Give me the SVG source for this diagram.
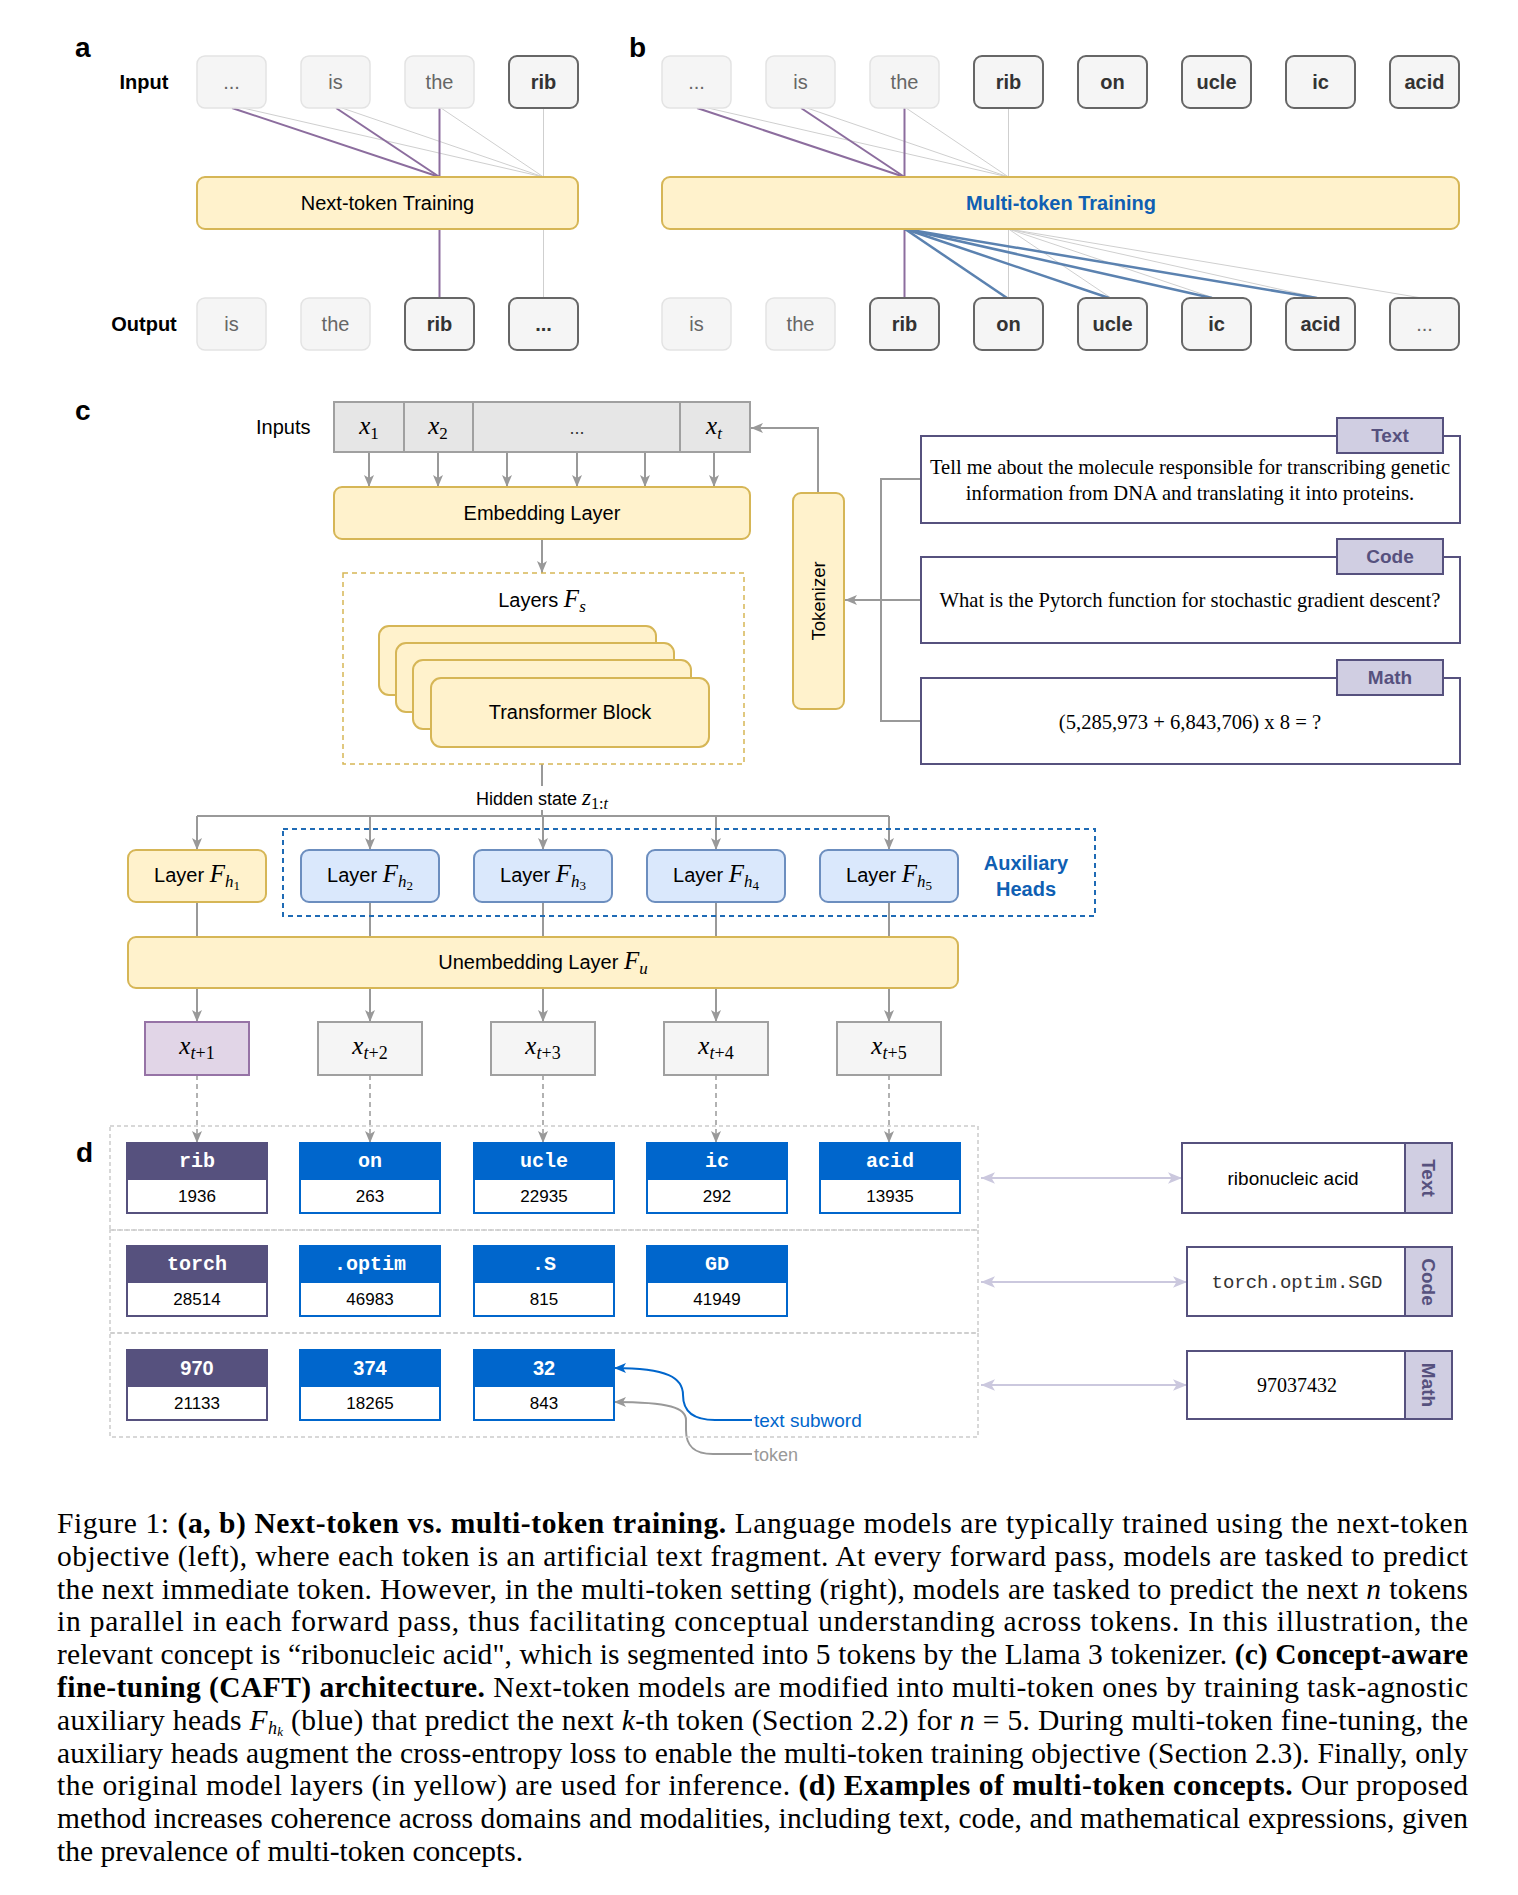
<svg xmlns="http://www.w3.org/2000/svg" width="1518" height="1895" viewBox="0 0 1518 1895">
<style>
text{font-family:"Liberation Sans",Arial,sans-serif}
.lbl{font-size:28px;font-weight:bold;fill:#000}
.rowl{font-size:20px;font-weight:bold;fill:#000;text-anchor:middle}
.tl{fill:#f5f5f5;stroke:#e3e3e3;stroke-width:1.5}
.td{fill:#f5f5f5;stroke:#666;stroke-width:2}
.tt{font-size:20px;fill:#666;text-anchor:middle}
.tb{font-size:20px;fill:#333;text-anchor:middle;font-weight:bold}
.yel{fill:#fff2cc;stroke:#d6b656;stroke-width:2}
.blu{fill:#dae8fc;stroke:#6c8ebf;stroke-width:2}
.c20{font-size:20px;fill:#000;text-anchor:middle}
.m{font-family:"Liberation Serif","Times New Roman",serif;font-style:italic}
.mu{font-family:"Liberation Serif","Times New Roman",serif;font-style:normal}
.pl{stroke:#8c6d9e;stroke-width:2;fill:none}
.gl{stroke:#cfcfcf;stroke-width:1;fill:none}
.bl{stroke:#5b82b0;stroke-width:2.5;fill:none}
.ar{stroke:#999;stroke-width:2;fill:none}
.da{stroke:#999;stroke-width:1.5;fill:none;stroke-dasharray:5 4}
.pbox{fill:#fff;stroke:#56517e;stroke-width:2}
.tag{fill:#d0cee2;stroke:#56517e;stroke-width:2}
.tagt{font-size:19px;font-weight:bold;fill:#56517e;text-anchor:middle}
.ser{font-family:"Liberation Serif","Times New Roman",serif;font-size:20.6px;fill:#000;text-anchor:middle}
.hp{fill:#56517e;stroke:#56517e;stroke-width:2}
.hb{fill:#0066cc;stroke:#0066cc;stroke-width:2}
.bp{fill:#fff;stroke:#56517e;stroke-width:2}
.bb{fill:#fff;stroke:#0066cc;stroke-width:2}
.ht{font-family:"Liberation Mono","Courier New",monospace;font-size:20px;font-weight:bold;fill:#fff;text-anchor:middle}
.hn{font-size:20px;font-weight:bold;fill:#fff;text-anchor:middle}
.nt{font-size:17px;fill:#000;text-anchor:middle}
.dash{fill:none;stroke:#cccccc;stroke-width:1.5;stroke-dasharray:4 3}
.lav{stroke:#cbc8de;stroke-width:2;fill:none}
.cap{font-family:"Liberation Serif","Times New Roman",serif;font-size:29.5px;fill:#000}
.b{font-weight:bold}
</style>
<defs>
<marker id="ag" viewBox="0 0 12 10" refX="12" refY="5" markerWidth="12" markerHeight="10" markerUnits="userSpaceOnUse" orient="auto"><path d="M0,0 L12,5 L0,10 L3,5 z" fill="#999"/></marker>
<marker id="ab" viewBox="0 0 12 10" refX="12" refY="5" markerWidth="12" markerHeight="10" markerUnits="userSpaceOnUse" orient="auto"><path d="M0,0 L12,5 L0,10 L3,5 z" fill="#0066cc"/></marker>
<marker id="al" viewBox="0 0 12 10" refX="12" refY="5" markerWidth="14" markerHeight="12" markerUnits="userSpaceOnUse" orient="auto-start-reverse"><path d="M0,0 L12,5 L0,10 L3,5 z" fill="#cbc8de"/></marker>
</defs>
<rect width="1518" height="1895" fill="#fff"/>

<!-- panel labels -->
<text class="lbl" x="75" y="57">a</text>
<text class="lbl" x="629" y="57">b</text>
<text class="lbl" x="75" y="420">c</text>
<text class="lbl" x="76" y="1162">d</text>
<text class="rowl" x="144" y="89">Input</text>
<text class="rowl" x="144" y="331">Output</text>

<!-- connectors -->
<g id="connectors">
  <!-- panel a -->
  <line class="gl" x1="243" y1="108" x2="543.5" y2="177"/>
  <line class="gl" x1="342" y1="108" x2="543.5" y2="177"/>
  <line class="gl" x1="441" y1="108" x2="543.5" y2="177"/>
  <line class="gl" x1="543.5" y1="108" x2="543.5" y2="177"/>
  <line class="pl" x1="232" y1="108" x2="439.5" y2="177"/>
  <line class="pl" x1="336" y1="108" x2="439.5" y2="177"/>
  <line class="pl" x1="439.5" y1="108" x2="439.5" y2="177"/>
  <line class="pl" x1="439.5" y1="229" x2="439.5" y2="298"/>
  <line class="gl" x1="543.5" y1="229" x2="543.5" y2="298"/>
  <!-- panel b -->
  <line class="gl" x1="708" y1="108" x2="1008.5" y2="177"/>
  <line class="gl" x1="807" y1="108" x2="1008.5" y2="177"/>
  <line class="gl" x1="906" y1="108" x2="1008.5" y2="177"/>
  <line class="gl" x1="1008.5" y1="108" x2="1008.5" y2="177"/>
  <line class="pl" x1="697" y1="108" x2="904.5" y2="177"/>
  <line class="pl" x1="801" y1="108" x2="904.5" y2="177"/>
  <line class="pl" x1="904.5" y1="108" x2="904.5" y2="177"/>
  <line class="gl" x1="1008.5" y1="229" x2="1008.5" y2="298"/>
  <line class="gl" x1="1008.5" y1="229" x2="1111" y2="298"/>
  <line class="gl" x1="1008.5" y1="229" x2="1214" y2="298"/>
  <line class="gl" x1="1008.5" y1="229" x2="1319" y2="298"/>
  <line class="gl" x1="1008.5" y1="229" x2="1422" y2="298"/>
  <line class="pl" x1="904.5" y1="229" x2="904.5" y2="298"/>
  <line class="bl" x1="905" y1="229" x2="1007" y2="298"/>
  <line class="bl" x1="905" y1="229" x2="1109" y2="298"/>
  <line class="bl" x1="905" y1="229" x2="1212" y2="298"/>
  <line class="bl" x1="905" y1="229" x2="1317" y2="298"/>
  <!-- panel c: inputs to embedding -->
  <line class="ar" x1="369" y1="452" x2="369" y2="487" marker-end="url(#ag)"/>
  <line class="ar" x1="438" y1="452" x2="438" y2="487" marker-end="url(#ag)"/>
  <line class="ar" x1="507" y1="452" x2="507" y2="487" marker-end="url(#ag)"/>
  <line class="ar" x1="577" y1="452" x2="577" y2="487" marker-end="url(#ag)"/>
  <line class="ar" x1="645" y1="452" x2="645" y2="487" marker-end="url(#ag)"/>
  <line class="ar" x1="714" y1="452" x2="714" y2="487" marker-end="url(#ag)"/>
  <line class="ar" x1="542" y1="539" x2="542" y2="573" marker-end="url(#ag)"/>
  <!-- tokenizer to xt -->
  <polyline class="ar" points="818,493 818,428 751,428" marker-end="url(#ag)"/>
  <!-- prompts to tokenizer -->
  <polyline class="ar" points="921,479 881,479 881,721 921,721"/>
  <line class="ar" x1="921" y1="600" x2="845" y2="600" marker-end="url(#ag)"/>
  <!-- hidden state -->
  <line class="ar" x1="542" y1="764" x2="542" y2="816"/>
  <line class="ar" x1="197" y1="816" x2="889" y2="816"/>
  <line class="ar" x1="197" y1="816" x2="197" y2="850" marker-end="url(#ag)"/>
  <line class="ar" x1="370" y1="816" x2="370" y2="850" marker-end="url(#ag)"/>
  <line class="ar" x1="543" y1="816" x2="543" y2="850" marker-end="url(#ag)"/>
  <line class="ar" x1="716" y1="816" x2="716" y2="850" marker-end="url(#ag)"/>
  <line class="ar" x1="889" y1="816" x2="889" y2="850" marker-end="url(#ag)"/>
  <!-- heads to unembedding -->
  <line class="ar" x1="197" y1="902" x2="197" y2="937"/>
  <line class="ar" x1="370" y1="902" x2="370" y2="937"/>
  <line class="ar" x1="543" y1="902" x2="543" y2="937"/>
  <line class="ar" x1="716" y1="902" x2="716" y2="937"/>
  <line class="ar" x1="889" y1="902" x2="889" y2="937"/>
  <!-- unembedding to outputs -->
  <line class="ar" x1="197" y1="988" x2="197" y2="1022" marker-end="url(#ag)"/>
  <line class="ar" x1="370" y1="988" x2="370" y2="1022" marker-end="url(#ag)"/>
  <line class="ar" x1="543" y1="988" x2="543" y2="1022" marker-end="url(#ag)"/>
  <line class="ar" x1="716" y1="988" x2="716" y2="1022" marker-end="url(#ag)"/>
  <line class="ar" x1="889" y1="988" x2="889" y2="1022" marker-end="url(#ag)"/>
  <!-- outputs to tokens -->
  <line class="da" x1="197" y1="1075" x2="197" y2="1143" marker-end="url(#ag)"/>
  <line class="da" x1="370" y1="1075" x2="370" y2="1143" marker-end="url(#ag)"/>
  <line class="da" x1="543" y1="1075" x2="543" y2="1143" marker-end="url(#ag)"/>
  <line class="da" x1="716" y1="1075" x2="716" y2="1143" marker-end="url(#ag)"/>
  <line class="da" x1="889" y1="1075" x2="889" y2="1143" marker-end="url(#ag)"/>
  <!-- d panel double arrows -->
  <line class="lav" x1="981" y1="1178" x2="1182" y2="1178" marker-start="url(#al)" marker-end="url(#al)"/>
  <line class="lav" x1="981" y1="1282" x2="1187" y2="1282" marker-start="url(#al)" marker-end="url(#al)"/>
  <line class="lav" x1="981" y1="1385" x2="1187" y2="1385" marker-start="url(#al)" marker-end="url(#al)"/>
  <!-- annotations -->
  <path d="M752 1420 L715 1420 C692 1420 683 1410 683 1395 C683 1378 668 1368 614 1368" fill="none" stroke="#0066cc" stroke-width="2" marker-end="url(#ab)"/>
  <path d="M752 1454 L713 1454 C693 1454 686 1445 686 1430 L686 1420 C686 1408 670 1402 614 1402" fill="none" stroke="#999" stroke-width="2" marker-end="url(#ag)"/>
</g>

<!-- panel a nodes -->
<g id="a-in-1"><rect class="tl" x="197" y="56" width="69" height="52" rx="8"/><text class="tt" x="231.5" y="89">...</text></g>
<g id="a-in-2"><rect class="tl" x="301" y="56" width="69" height="52" rx="8"/><text class="tt" x="335.5" y="89">is</text></g>
<g id="a-in-3"><rect class="tl" x="405" y="56" width="69" height="52" rx="8"/><text class="tt" x="439.5" y="89">the</text></g>
<g id="a-in-4"><rect class="td" x="509" y="56" width="69" height="52" rx="8"/><text class="tb" x="543.5" y="89">rib</text></g>
<g id="a-train"><rect class="yel" x="197" y="177" width="381" height="52" rx="8"/><text class="c20" x="387.5" y="210">Next-token Training</text></g>
<g id="a-out-1"><rect class="tl" x="197" y="298" width="69" height="52" rx="8"/><text class="tt" x="231.5" y="331">is</text></g>
<g id="a-out-2"><rect class="tl" x="301" y="298" width="69" height="52" rx="8"/><text class="tt" x="335.5" y="331">the</text></g>
<g id="a-out-3"><rect class="td" x="405" y="298" width="69" height="52" rx="8"/><text class="tb" x="439.5" y="331">rib</text></g>
<g id="a-out-4"><rect class="td" x="509" y="298" width="69" height="52" rx="8"/><text class="tb" x="543.5" y="331">...</text></g>

<!-- panel b nodes -->
<g id="b-in-1"><rect class="tl" x="662" y="56" width="69" height="52" rx="8"/><text class="tt" x="696.5" y="89">...</text></g>
<g id="b-in-2"><rect class="tl" x="766" y="56" width="69" height="52" rx="8"/><text class="tt" x="800.5" y="89">is</text></g>
<g id="b-in-3"><rect class="tl" x="870" y="56" width="69" height="52" rx="8"/><text class="tt" x="904.5" y="89">the</text></g>
<g id="b-in-4"><rect class="td" x="974" y="56" width="69" height="52" rx="8"/><text class="tb" x="1008.5" y="89">rib</text></g>
<g id="b-in-5"><rect class="td" x="1078" y="56" width="69" height="52" rx="8"/><text class="tb" x="1112.5" y="89">on</text></g>
<g id="b-in-6"><rect class="td" x="1182" y="56" width="69" height="52" rx="8"/><text class="tb" x="1216.5" y="89">ucle</text></g>
<g id="b-in-7"><rect class="td" x="1286" y="56" width="69" height="52" rx="8"/><text class="tb" x="1320.5" y="89">ic</text></g>
<g id="b-in-8"><rect class="td" x="1390" y="56" width="69" height="52" rx="8"/><text class="tb" x="1424.5" y="89">acid</text></g>
<g id="b-train"><rect class="yel" x="662" y="177" width="797" height="52" rx="8"/><text class="c20" x="1061" y="210" style="fill:#0f5fb3;font-weight:bold">Multi-token Training</text></g>
<g id="b-out-1"><rect class="tl" x="662" y="298" width="69" height="52" rx="8"/><text class="tt" x="696.5" y="331">is</text></g>
<g id="b-out-2"><rect class="tl" x="766" y="298" width="69" height="52" rx="8"/><text class="tt" x="800.5" y="331">the</text></g>
<g id="b-out-3"><rect class="td" x="870" y="298" width="69" height="52" rx="8"/><text class="tb" x="904.5" y="331">rib</text></g>
<g id="b-out-4"><rect class="td" x="974" y="298" width="69" height="52" rx="8"/><text class="tb" x="1008.5" y="331">on</text></g>
<g id="b-out-5"><rect class="td" x="1078" y="298" width="69" height="52" rx="8"/><text class="tb" x="1112.5" y="331">ucle</text></g>
<g id="b-out-6"><rect class="td" x="1182" y="298" width="69" height="52" rx="8"/><text class="tb" x="1216.5" y="331">ic</text></g>
<g id="b-out-7"><rect class="td" x="1286" y="298" width="69" height="52" rx="8"/><text class="tb" x="1320.5" y="331">acid</text></g>
<g id="b-out-8"><rect class="td" x="1390" y="298" width="69" height="52" rx="8"/><text class="tt" x="1424.5" y="331">...</text></g>

<!-- panel c -->
<text x="256" y="434" style="font-size:20px">Inputs</text>
<g id="c-inputs">
  <rect x="334" y="402" width="416" height="50" fill="#e6e6e6" stroke="#a0a0a0" stroke-width="2"/>
  <line x1="404" y1="402" x2="404" y2="452" stroke="#a0a0a0" stroke-width="2"/>
  <line x1="473" y1="402" x2="473" y2="452" stroke="#a0a0a0" stroke-width="2"/>
  <line x1="680" y1="402" x2="680" y2="452" stroke="#a0a0a0" stroke-width="2"/>
  <text x="369" y="434" style="text-anchor:middle"><tspan class="m" style="font-size:25px">x</tspan><tspan class="mu" dy="5" style="font-size:17px">1</tspan></text>
  <text x="438" y="434" style="text-anchor:middle"><tspan class="m" style="font-size:25px">x</tspan><tspan class="mu" dy="5" style="font-size:17px">2</tspan></text>
  <text x="577" y="434" style="font-size:18px;text-anchor:middle;fill:#333">...</text>
  <text x="714" y="434" style="text-anchor:middle"><tspan class="m" style="font-size:25px">x</tspan><tspan class="m" dy="5" style="font-size:17px">t</tspan></text>
</g>
<g id="c-embed"><rect class="yel" x="334" y="487" width="416" height="52" rx="8"/><text class="c20" x="542" y="520">Embedding Layer</text></g>
<g id="c-layers">
  <rect x="343" y="573" width="401" height="191" fill="none" stroke="#d6b656" stroke-width="1.5" stroke-dasharray="5 4"/>
  <text x="542" y="607" style="font-size:20px;text-anchor:middle">Layers <tspan class="m" style="font-size:25px">F</tspan><tspan class="m" dy="5" style="font-size:17px">s</tspan></text>
  <rect class="yel" x="379" y="626" width="277" height="69" rx="10"/>
  <rect class="yel" x="396" y="643" width="278" height="69" rx="10"/>
  <rect class="yel" x="413" y="660" width="278" height="69" rx="10"/>
  <rect class="yel" x="431" y="678" width="278" height="69" rx="10"/>
  <text class="c20" x="570" y="719">Transformer Block</text>
</g>
<g id="c-tokenizer"><rect class="yel" x="793" y="493" width="51" height="216" rx="8"/><text x="819" y="607" transform="rotate(-90 819 601)" style="font-size:18.5px;text-anchor:middle;fill:#000">Tokenizer</text></g>
<g id="c-text">
  <rect class="pbox" x="921" y="436" width="539" height="87"/>
  <rect class="tag" x="1337" y="418" width="106" height="35"/>
  <text class="tagt" x="1390" y="442">Text</text>
  <text class="ser" x="1190" y="474">Tell me about the molecule responsible for transcribing genetic</text>
  <text class="ser" x="1190" y="500">information from DNA and translating it into proteins.</text>
</g>
<g id="c-code">
  <rect class="pbox" x="921" y="557" width="539" height="86"/>
  <rect class="tag" x="1337" y="539" width="106" height="35"/>
  <text class="tagt" x="1390" y="563">Code</text>
  <text class="ser" x="1190" y="607">What is the Pytorch function for stochastic gradient descent?</text>
</g>
<g id="c-math">
  <rect class="pbox" x="921" y="678" width="539" height="86"/>
  <rect class="tag" x="1337" y="660" width="106" height="35"/>
  <text class="tagt" x="1390" y="684">Math</text>
  <text class="ser" x="1190" y="729">(5,285,973 + 6,843,706) x 8 = ?</text>
</g>
<g id="c-hidden">
  <rect x="474" y="786" width="150" height="24" fill="#fff"/>
  <text x="476" y="805" style="font-size:18px">Hidden state <tspan class="m" style="font-size:23px">z</tspan><tspan class="mu" dy="4" style="font-size:16px">1:</tspan><tspan class="m" style="font-size:16px">t</tspan></text>
</g>
<g id="c-aux">
  <rect x="283" y="829" width="812" height="87" fill="none" stroke="#1f6bb5" stroke-width="2" stroke-dasharray="5 4"/>
  <text x="1026" y="870" style="font-size:20px;font-weight:bold;fill:#0f5fb3;text-anchor:middle">Auxiliary</text>
  <text x="1026" y="896" style="font-size:20px;font-weight:bold;fill:#0f5fb3;text-anchor:middle">Heads</text>
</g>
<g id="c-h1"><rect class="yel" x="128" y="850" width="138" height="52" rx="8"/><text class="c20" x="197" y="882">Layer <tspan class="m" style="font-size:25px">F</tspan><tspan class="m" dy="5" style="font-size:17px">h</tspan><tspan class="mu" dy="3" style="font-size:13px">1</tspan></text></g>
<g id="c-h2"><rect class="blu" x="301" y="850" width="138" height="52" rx="8"/><text class="c20" x="370" y="882">Layer <tspan class="m" style="font-size:25px">F</tspan><tspan class="m" dy="5" style="font-size:17px">h</tspan><tspan class="mu" dy="3" style="font-size:13px">2</tspan></text></g>
<g id="c-h3"><rect class="blu" x="474" y="850" width="138" height="52" rx="8"/><text class="c20" x="543" y="882">Layer <tspan class="m" style="font-size:25px">F</tspan><tspan class="m" dy="5" style="font-size:17px">h</tspan><tspan class="mu" dy="3" style="font-size:13px">3</tspan></text></g>
<g id="c-h4"><rect class="blu" x="647" y="850" width="138" height="52" rx="8"/><text class="c20" x="716" y="882">Layer <tspan class="m" style="font-size:25px">F</tspan><tspan class="m" dy="5" style="font-size:17px">h</tspan><tspan class="mu" dy="3" style="font-size:13px">4</tspan></text></g>
<g id="c-h5"><rect class="blu" x="820" y="850" width="138" height="52" rx="8"/><text class="c20" x="889" y="882">Layer <tspan class="m" style="font-size:25px">F</tspan><tspan class="m" dy="5" style="font-size:17px">h</tspan><tspan class="mu" dy="3" style="font-size:13px">5</tspan></text></g>
<g id="c-unembed"><rect class="yel" x="128" y="937" width="830" height="51" rx="8"/><text class="c20" x="543" y="969">Unembedding Layer <tspan class="m" style="font-size:25px">F</tspan><tspan class="m" dy="5" style="font-size:17px">u</tspan></text></g>
<g id="c-o1"><rect x="145" y="1022" width="104" height="53" fill="#e1d5e7" stroke="#9673a6" stroke-width="2"/><text x="197" y="1054" style="text-anchor:middle;fill:#000"><tspan class="m" style="font-size:25px">x</tspan><tspan class="m" dy="5" style="font-size:18px">t</tspan><tspan class="mu" style="font-size:18px">+1</tspan></text></g>
<g id="c-o2"><rect x="318" y="1022" width="104" height="53" fill="#f5f5f5" stroke="#a0a0a0" stroke-width="2"/><text x="370" y="1054" style="text-anchor:middle;fill:#000"><tspan class="m" style="font-size:25px">x</tspan><tspan class="m" dy="5" style="font-size:18px">t</tspan><tspan class="mu" style="font-size:18px">+2</tspan></text></g>
<g id="c-o3"><rect x="491" y="1022" width="104" height="53" fill="#f5f5f5" stroke="#a0a0a0" stroke-width="2"/><text x="543" y="1054" style="text-anchor:middle;fill:#000"><tspan class="m" style="font-size:25px">x</tspan><tspan class="m" dy="5" style="font-size:18px">t</tspan><tspan class="mu" style="font-size:18px">+3</tspan></text></g>
<g id="c-o4"><rect x="664" y="1022" width="104" height="53" fill="#f5f5f5" stroke="#a0a0a0" stroke-width="2"/><text x="716" y="1054" style="text-anchor:middle;fill:#000"><tspan class="m" style="font-size:25px">x</tspan><tspan class="m" dy="5" style="font-size:18px">t</tspan><tspan class="mu" style="font-size:18px">+4</tspan></text></g>
<g id="c-o5"><rect x="837" y="1022" width="104" height="53" fill="#f5f5f5" stroke="#a0a0a0" stroke-width="2"/><text x="889" y="1054" style="text-anchor:middle;fill:#000"><tspan class="m" style="font-size:25px">x</tspan><tspan class="m" dy="5" style="font-size:18px">t</tspan><tspan class="mu" style="font-size:18px">+5</tspan></text></g>

<!-- panel d -->
<g id="d-frames">
  <rect class="dash" x="110" y="1126" width="868" height="104"/>
  <rect class="dash" x="110" y="1230" width="868" height="103"/>
  <rect class="dash" x="110" y="1333" width="868" height="104"/>
</g>
<g id="d-r1c1"><rect class="hp" x="127" y="1143" width="140" height="36"/><rect class="bp" x="127" y="1179" width="140" height="34"/><text class="ht" x="197" y="1167">rib</text><text class="nt" x="197" y="1202">1936</text></g>
<g id="d-r1c2"><rect class="hb" x="300" y="1143" width="140" height="36"/><rect class="bb" x="300" y="1179" width="140" height="34"/><text class="ht" x="370" y="1167">on</text><text class="nt" x="370" y="1202">263</text></g>
<g id="d-r1c3"><rect class="hb" x="474" y="1143" width="140" height="36"/><rect class="bb" x="474" y="1179" width="140" height="34"/><text class="ht" x="544" y="1167">ucle</text><text class="nt" x="544" y="1202">22935</text></g>
<g id="d-r1c4"><rect class="hb" x="647" y="1143" width="140" height="36"/><rect class="bb" x="647" y="1179" width="140" height="34"/><text class="ht" x="717" y="1167">ic</text><text class="nt" x="717" y="1202">292</text></g>
<g id="d-r1c5"><rect class="hb" x="820" y="1143" width="140" height="36"/><rect class="bb" x="820" y="1179" width="140" height="34"/><text class="ht" x="890" y="1167">acid</text><text class="nt" x="890" y="1202">13935</text></g>
<g id="d-r2c1"><rect class="hp" x="127" y="1246" width="140" height="36"/><rect class="bp" x="127" y="1282" width="140" height="34"/><text class="ht" x="197" y="1270">torch</text><text class="nt" x="197" y="1305">28514</text></g>
<g id="d-r2c2"><rect class="hb" x="300" y="1246" width="140" height="36"/><rect class="bb" x="300" y="1282" width="140" height="34"/><text class="ht" x="370" y="1270">.optim</text><text class="nt" x="370" y="1305">46983</text></g>
<g id="d-r2c3"><rect class="hb" x="474" y="1246" width="140" height="36"/><rect class="bb" x="474" y="1282" width="140" height="34"/><text class="ht" x="544" y="1270">.S</text><text class="nt" x="544" y="1305">815</text></g>
<g id="d-r2c4"><rect class="hb" x="647" y="1246" width="140" height="36"/><rect class="bb" x="647" y="1282" width="140" height="34"/><text class="ht" x="717" y="1270">GD</text><text class="nt" x="717" y="1305">41949</text></g>
<g id="d-r3c1"><rect class="hp" x="127" y="1350" width="140" height="36"/><rect class="bp" x="127" y="1386" width="140" height="34"/><text class="hn" x="197" y="1375">970</text><text class="nt" x="197" y="1409">21133</text></g>
<g id="d-r3c2"><rect class="hb" x="300" y="1350" width="140" height="36"/><rect class="bb" x="300" y="1386" width="140" height="34"/><text class="hn" x="370" y="1375">374</text><text class="nt" x="370" y="1409">18265</text></g>
<g id="d-r3c3"><rect class="hb" x="474" y="1350" width="140" height="36"/><rect class="bb" x="474" y="1386" width="140" height="34"/><text class="hn" x="544" y="1375">32</text><text class="nt" x="544" y="1409">843</text></g>
<text x="754" y="1427" style="font-size:19px;fill:#0066cc">text subword</text>
<text x="754" y="1461" style="font-size:18px;fill:#999">token</text>
<g id="d-text"><rect class="pbox" x="1182" y="1143" width="223" height="70"/><rect class="tag" x="1405" y="1143" width="47" height="70"/><text x="1293" y="1185" style="font-size:19px;text-anchor:middle;fill:#000">ribonucleic acid</text><text class="tagt" x="1428.5" y="1185" transform="rotate(90 1428.5 1178)">Text</text></g>
<g id="d-code"><rect class="pbox" x="1187" y="1247" width="218" height="69"/><rect class="tag" x="1405" y="1247" width="47" height="69"/><text x="1297" y="1288" style="font-family:'Liberation Mono','Courier New',monospace;font-size:19px;text-anchor:middle;fill:#333">torch.optim.SGD</text><text class="tagt" x="1428.5" y="1289" transform="rotate(90 1428.5 1282)">Code</text></g>
<g id="d-math"><rect class="pbox" x="1187" y="1351" width="218" height="68"/><rect class="tag" x="1405" y="1351" width="47" height="68"/><text x="1297" y="1392" style="font-family:'Liberation Serif','Times New Roman',serif;font-size:20px;text-anchor:middle;fill:#000">97037432</text><text class="tagt" x="1428.5" y="1392" transform="rotate(90 1428.5 1385)">Math</text></g>

<!-- caption -->
<g id="caption">
<text class="cap" x="57" y="1533" textLength="1411" lengthAdjust="spacing">Figure 1: <tspan class="b">(a, b) Next-token vs. multi-token training.</tspan> Language models are typically trained using the next-token</text>
<text class="cap" x="57" y="1566" textLength="1411" lengthAdjust="spacing">objective (left), where each token is an artificial text fragment.  At every forward pass, models are tasked to predict</text>
<text class="cap" x="57" y="1599" textLength="1411" lengthAdjust="spacing">the next immediate token. However, in the multi-token setting (right), models are tasked to predict the next <tspan font-style="italic">n</tspan> tokens</text>
<text class="cap" x="57" y="1631" textLength="1411" lengthAdjust="spacing">in parallel in each forward pass, thus facilitating conceptual understanding across tokens.  In this illustration, the</text>
<text class="cap" x="57" y="1664" textLength="1411" lengthAdjust="spacing">relevant concept is “ribonucleic acid", which is segmented into 5 tokens by the Llama 3 tokenizer. <tspan class="b">(c) Concept-aware</tspan></text>
<text class="cap" x="57" y="1697" textLength="1411" lengthAdjust="spacing"><tspan class="b">fine-tuning (CAFT) architecture.</tspan> Next-token models are modified into multi-token ones by training task-agnostic</text>
<text class="cap" x="57" y="1730" textLength="1411" lengthAdjust="spacing">auxiliary heads <tspan font-style="italic">F</tspan><tspan font-style="italic" dy="4" style="font-size:18px">h</tspan><tspan font-style="italic" dy="2" style="font-size:13px">k</tspan><tspan dy="-6"> (blue) that predict the next </tspan><tspan font-style="italic">k</tspan>-th token (Section 2.2) for <tspan font-style="italic">n</tspan> = 5. During multi-token fine-tuning, the</text>
<text class="cap" x="57" y="1763" textLength="1411" lengthAdjust="spacing">auxiliary heads augment the cross-entropy loss to enable the multi-token training objective (Section 2.3). Finally, only</text>
<text class="cap" x="57" y="1795" textLength="1411" lengthAdjust="spacing">the original model layers (in yellow) are used for inference. <tspan class="b">(d) Examples of multi-token concepts.</tspan> Our proposed</text>
<text class="cap" x="57" y="1828" textLength="1411" lengthAdjust="spacing">method increases coherence across domains and modalities, including text, code, and mathematical expressions, given</text>
<text class="cap" x="57" y="1861">the prevalence of multi-token concepts.</text>
</g>
</svg>
